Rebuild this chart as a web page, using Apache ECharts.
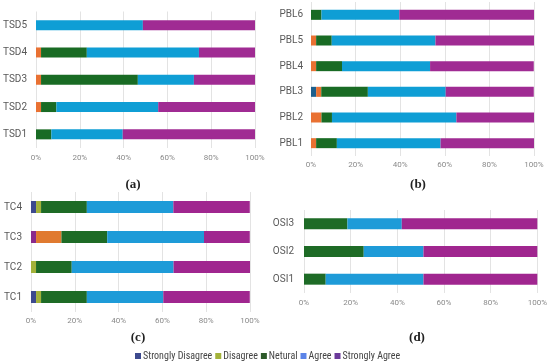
<!DOCTYPE html>
<html>
<head>
<meta charset="utf-8">
<style>html,body{margin:0;padding:0;background:#fff}#chart{width:550px;height:362px}</style>
<script src="https://cdn.jsdelivr.net/npm/echarts@6/dist/echarts.min.js"></script>
</head>
<body>
<div id="chart"></div>
<script>
var seriesNames = ['Strongly Disagree', 'Disagree', 'Netural', 'Agree', 'Strongly Agree'];
var xTicks = ['0%', '20%', '40%', '60%', '80%', '100%'];

// Panel (a)
var catsA = ['TSD1', 'TSD2', 'TSD3', 'TSD4', 'TSD5'];
var a_SD = [0, 0, 0, 0, 0];
var a_D  = [0, 2.3, 2.3, 2.3, 0];
var a_N  = [7.0, 7.0, 44.2, 20.9, 0];
var a_A  = [32.6, 46.5, 25.6, 51.2, 48.8];
var a_SA = [60.4, 44.2, 27.9, 25.6, 51.2];

// Panel (b)
var catsB = ['PBL1', 'PBL2', 'PBL3', 'PBL4', 'PBL5', 'PBL6'];
var b_SD = [0, 0, 2.3, 0, 0, 0];
var b_D  = [2.3, 4.7, 2.3, 2.3, 2.3, 0];
var b_N  = [9.3, 4.7, 20.9, 11.6, 7.0, 4.7];
var b_A  = [46.5, 55.8, 34.9, 39.5, 46.5, 34.9];
var b_SA = [41.9, 34.9, 39.5, 46.5, 44.2, 60.4];

// Panel (c)
var catsC = ['TC1', 'TC2', 'TC3', 'TC4'];
var c_SD = [2.3, 0, 2.3, 2.3];
var c_D  = [2.3, 2.3, 11.6, 2.3];
var c_N  = [20.9, 16.3, 20.9, 20.9];
var c_A  = [34.9, 46.5, 44.2, 39.5];
var c_SA = [39.5, 34.9, 20.9, 34.9];

// Panel (d)
var catsD = ['OSI1', 'OSI2', 'OSI3'];
var d_SD = [0, 0, 0];
var d_D  = [0, 0, 0];
var d_N  = [9.3, 25.6, 18.6];
var d_A  = [41.9, 25.6, 23.3];
var d_SA = [48.8, 48.8, 58.1];

var colorsAB = ['#1d5f8c', '#e97132', '#196b24', '#0f9ed5', '#a02b93'];
var colorsCD = ['#3d4a8e', '#a3b23a', '#1e6b26', '#1e9bd8', '#a0268f'];
var legendColors = ['#3d4a8e', '#a3b23a', '#2d5a2a', '#5b84e8', '#6b3a9a'];

var panels = [
  {cats: catsA, data: [a_SD, a_D, a_N, a_A, a_SA], colors: colorsAB, bw: 10,
   grid: {left: 31, top: 11.5, width: 224, height: 136.5}, lm: 9, xm: 6, title: '(a)', tx: 128, ty: 173},
  {cats: catsB, data: [b_SD, b_D, b_N, b_A, b_SA], colors: colorsAB, bw: 10,
   grid: {left: 311, top: 2, width: 223, height: 154}, lm: 8, xm: 5, title: '(b)', tx: 413, ty: 173},
  {cats: catsC, data: [c_SD, c_D, c_N, c_A, c_SA], colors: colorsCD, bw: 12,
   grid: {left: 31, top: 192, width: 219, height: 120}, lm: 9, xm: 5, title: '(c)', tx: 133, ty: 326,
   overrides: {'0_2': '#8a2a8c', '1_2': '#e07a30'}},
  {cats: catsD, data: [d_SD, d_D, d_N, d_A, d_SA], colors: colorsCD, bw: 11,
   grid: {left: 304, top: 210, width: 234, height: 83}, lm: 10, xm: 6, title: '(d)', tx: 412, ty: 326}
];

var grids = [], xAxes = [], yAxes = [], series = [], titles = [];
panels.forEach(function (p, i) {
  grids.push(Object.assign({containLabel: false}, p.grid));
  xAxes.push({
    type: 'value', gridIndex: i, min: 0, max: 100, interval: 20,
    axisLine: {show: false}, axisTick: {show: false},
    splitLine: {show: true, lineStyle: {color: '#e3e3e3', width: 1}},
    axisLabel: {fontSize: 8, color: '#8a8a8a', margin: p.xm, fontFamily: 'Roboto',
      formatter: function (v) { return xTicks[Math.round(v / 20)]; }}
  });
  yAxes.push({
    type: 'category', gridIndex: i, data: p.cats,
    axisLine: {show: false}, axisTick: {show: false},
    axisLabel: {fontSize: 10, color: '#595959', margin: p.lm, fontFamily: 'Roboto'}
  });
  seriesNames.forEach(function (name, k) {
    var ov = p.overrides || {};
    var items = p.data[k].map(function (v, j) {
      var key = k + '_' + j;
      return ov[key] ? {value: v, itemStyle: {color: ov[key]}} : v;
    });
    series.push({
      name: name, type: 'bar', stack: 'p' + i, xAxisIndex: i, yAxisIndex: i,
      barWidth: p.bw, data: items, itemStyle: {color: p.colors[k]},
      silent: true, animation: false
    });
  });
  titles.push({
    text: p.title, left: p.tx, top: p.ty, textAlign: 'center',
    textStyle: {fontFamily: "'Liberation Serif', 'DejaVu Serif', serif", fontSize: 13, fontWeight: 'bold', color: '#222'}
  });
});

var chart = echarts.init(document.getElementById('chart'), null, {renderer: 'canvas'});
chart.setOption({
  animation: false,
  title: titles,
  legend: {
    left: 130, top: 346, itemWidth: 6, itemHeight: 6, itemGap: 3,
    icon: 'rect',
    textStyle: {fontSize: 10, color: '#444', padding: [0, 0, 0, -3],
      fontFamily: "'Liberation Sans Narrow', 'Roboto Condensed', 'Liberation Sans', sans-serif"},
    data: seriesNames.map(function (n, k) { return {name: n, itemStyle: {color: legendColors[k]}}; })
  },
  grid: grids, xAxis: xAxes, yAxis: yAxes, series: series
});
</script>
</body>
</html>
